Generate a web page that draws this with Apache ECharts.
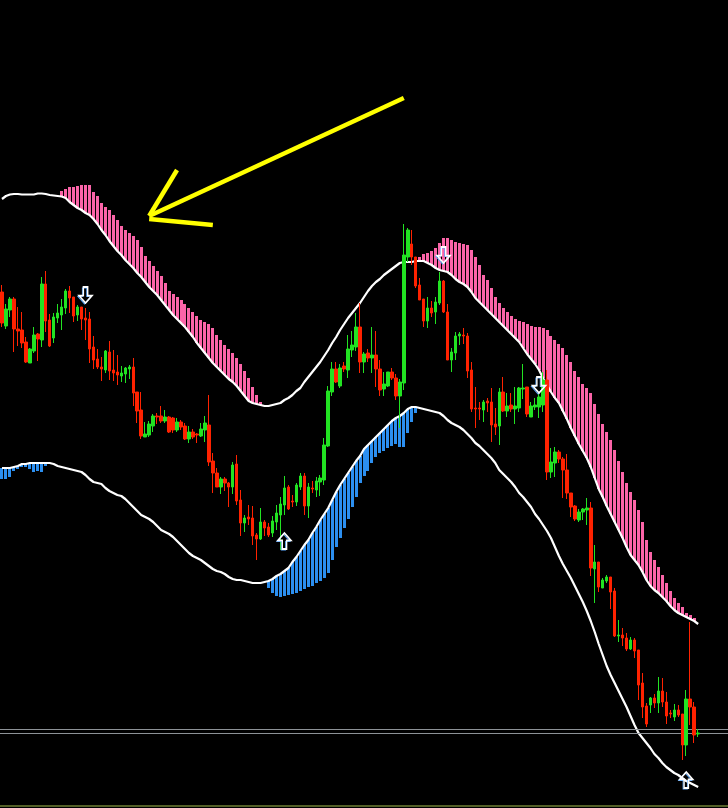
<!DOCTYPE html>
<html><head><meta charset="utf-8">
<script src="https://cdn.jsdelivr.net/npm/echarts@6/dist/echarts.min.js"></script>
<style>html,body{margin:0;padding:0;background:#000;}#c{width:728px;height:808px;}</style>
</head><body><div id="c"></div>
<script>
// price units (pips above chart floor); candles: [open, close, low, high]
const ohlc = [
[516,485,481,523],[482,499,479,504],[498,509,491,511],[509,479,456,511],[479,477,462,501],[478,465,460,496],[466,446,445,471],[445,459,445,460],[457,473,455,481],[474,469,447,475],
[468,524,461,531],[524,487,476,537],[488,462,461,494],[470,491,465,495],[490,495,485,504],[493,501,478,509],[500,517,494,519],[517,510,495,522],[511,492,486,511],[493,501,487,503],
[501,489,478,501],[490,488,468,500],[489,459,445,496],[461,448,439,472],[449,441,439,459],[441,439,427,451],[438,457,435,458],[456,437,428,467],[438,435,427,458],[436,433,423,453],
[432,435,426,442],[434,440,425,441],[439,441,429,443],[441,415,402,450],[416,397,385,416],[398,372,369,416],[371,374,371,386],[373,384,371,387],[382,392,376,394],[392,391,384,395],
[392,387,385,402],[387,391,385,398],[391,376,375,392],[390,378,375,391],[378,386,376,390],[386,381,378,388],[382,369,368,385],[369,376,365,382],[376,371,369,379],[374,373,365,375],
[372,379,371,385],[378,385,366,392],[383,346,342,413],[347,335,315,355],[335,321,321,340],[321,329,314,331],[329,325,317,331],[325,321,301,326],[321,343,314,346],[344,307,303,353],
[308,285,272,318],[285,290,276,293],[291,289,283,303],[290,272,263,302],[273,269,248,275],[269,286,268,300],[286,280,272,288],[281,273,271,285],[275,287,271,292],[286,295,278,303],
[293,304,258,311],[303,320,293,332],[321,299,298,323],[307,306,301,313],[306,323,302,325],[321,332,318,335],[332,302,293,335],[302,321,290,325],[320,319,315,327],[318,327,311,331],
[326,330,312,333],[328,363,323,370],[362,417,361,422],[416,439,412,446],[439,426,425,446],[422,440,420,444],[442,439,436,446],[438,459,430,473],[458,463,451,477],[461,481,457,495],
[481,446,435,505],[446,454,435,456],[455,450,446,459],[450,453,435,481],[453,439,421,477],[439,418,412,448],[419,424,412,436],[422,436,421,436],[436,430,428,440],[430,412,408,434],
[412,426,380,429],[425,553,418,584],[551,578,546,580],[564,551,543,578],[551,522,520,551],[523,508,508,530],[509,487,481,509],[487,500,480,511],[500,495,491,507],[496,506,484,511],
[505,527,503,536],[527,496,495,528],[496,448,448,504],[448,456,436,460],[455,472,448,476],[472,474,463,476],[473,472,464,480],[472,437,430,475],[438,399,396,446],[400,399,380,421],
[400,399,388,406],[398,406,386,408],[407,405,396,410],[406,383,366,420],[384,381,373,400],[382,416,363,420],[416,397,396,431],[397,402,391,415],[403,399,396,415],[399,402,384,421],
[400,420,396,421],[419,420,409,444],[421,394,391,421],[391,402,391,406],[401,403,398,410],[401,411,390,415],[403,428,396,436],[428,336,328,438],[336,346,330,360],[345,356,331,361],
[356,349,345,358],[349,338,310,351],[338,315,309,354],[315,301,291,315],[302,289,287,303],[288,296,286,299],[296,299,288,300],[298,300,283,310],[300,240,232,306],[239,246,205,263],
[246,221,216,246],[220,228,220,230],[227,231,225,233],[231,216,199,231],[217,172,171,220],[172,173,166,188],[173,170,162,180],[170,159,157,175],[159,168,158,171],[168,157,150,170],
[158,123,108,158],[125,101,90,135],[102,84,81,105],[103,110,95,111],[110,105,100,114],[105,117,95,131],[117,106,101,130],[106,92,84,116],[95,94,90,98],[91,98,87,104],
[98,93,91,103],[94,63,48,94],[63,109,52,118],[109,101,83,186],[101,73,65,106],[74,75,71,79]
];
const upperBand = [
609,612,613.5,614,614,613.5,613.5,613.5,613.5,614.5,
614.5,614,613,612.5,612,611.5,610,606,603,600,
598,595,593,589,584,578,573,567,562,557,
553,548,544,540,535,531,526,521,517,513,
508,503,498,493,489,485,481,476,471,465,
460,455,450,445,441,437,433,429,426,422,
417,412,407,405,404,403,402,402,403,404,
405,408,410,413,417,420,426,431,436,441,
446,452,458,465,471,478,484,490,495,500,
505,511,517,522,526,529,533,536,539,542,
545,546,546,546,547,547,547,545,543,540,
538,537,536,533,529,526,524,521,516,510,
506,502,498,494,490,486,482,478,474,470,
466,460,454,449,444,438,430,423,416,410,
405,397,389,380,372,364,357,350,341,330,
319,311,302,294,286,278,270,261,253,248,
243,236,228,222,218,215,211,207,202,198,
195,193,191,189,187,184];
const lowerBand = [
340,340,340,341,342,344,344,345,345,345,
345,345,345,344,342,341,340,339,338,337,
336,333,329,326,325,324,320,317,315,313,
312,309,305,301,297,293,291,289,286,282,
278,276,274,271,267,263,259,255,252,250,
248,245,242,239,237,236,234,231,229,228,
228,227,226,225,225,225,226,227,229,232,
234,237,240,246,251,257,263,268,275,281,
288,294,300,308,316,323,329,335,341,347,
352,359,363,367,371,375,379,383,387,390,
392,395,399,401,401,400,399,398,397,396,
395,392,388,385,383,381,378,374,370,365,
362,358,354,350,345,338,334,330,326,321,
315,311,306,301,294,289,283,277,270,261,
252,244,237,230,222,214,206,197,187,176,
164,153,142,133,125,117,109,101,92,83,
75,70,65,60,54,50,45,41,38,35,
33,30,27,25,23,21];
const pinkStartA = 15;
const pinkTopA = [617,619,621,621,622,623,623,623,616,612,605,601,598,593,588,582,578,575,572,568,561,552,547,542,537,532,525,517,514,511,508,504,500,496,492,488,486,484,480,473,468,463,459,455,450,444,437,430,421,413,406];
const pinkStartB = 105;
const pinkTopB = [551,554,555,557,560,565,570,570,568,566,565,564,563,558,551,543,533,528,520,511,505,500,496,492,489,487,486,484,482,481,481,480,478,472,468,464,460,453,446,437,431,424,420,415,404,394,384,376,368,358,347,336,325,316,308,298,286,268,256,248,241,233,225,217,210,205,201,195,193,190];
const blueStartA = 0;
const blueBottomA = [329,329,331,337,339,341,341,339,336,337,336,342];
const blueStartB = 67;
const blueBottomB = [220,215,212,211,212,213,214,215,217,219,221,222,225,227,230,235,248,261,270,280,289,301,311,325,332,337,345,351,355,357,360,362,364,361,361,375,386,395];
const sellArrows = [[21,513],[111,553],[135,423]];
const buyArrows = [[71,267],[172,28]];
const bidAskLines = [78.7, 74.7];
const floorLine = 2.7;
const yellowArrow = [[[101,710],[37,592]],[[37,592],[44,638]],[[37,589],[53,583]]];

const N = ohlc.length, PAD = 7;
const categories = Array.from({length: N + PAD}, (_, i) => String(i + 1));
function rangeData(start, ends, base) {
  return ends.map((t, k) => { const i = start + k; const b = base[i]; return [i, Math.min(t, b), Math.max(t, b)]; });
}
const pinkData = rangeData(pinkStartA, pinkTopA, upperBand).concat(rangeData(pinkStartB, pinkTopB, upperBand));
const blueData = rangeData(blueStartA, blueBottomA, lowerBand).concat(rangeData(blueStartB, blueBottomB, lowerBand));
function histSeries(name, data, color) {
  return { name, type: 'custom', data, encode: {x: 0, y: [1, 2]}, z: 1, silent: true,
    renderItem(params, api) {
      const x = api.value(0);
      const top = api.coord([x, api.value(2)]);
      const bot = api.coord([x, api.value(1)]);
      const w = api.size([1, 0])[0] * 0.75;
      return { type: 'rect', shape: { x: Math.round(top[0] - w / 2), y: Math.round(top[1]), width: w, height: Math.round(bot[1] - top[1]) }, style: { fill: color } };
    } };
}
const downPath = 'path://M4,0 L8,0 L8,8 L12,8 L6,15 L0,8 L4,8 Z';
const upPath = 'path://M4,15 L4,7 L0,7 L6,0 L12,7 L8,7 L8,15 Z';
function arrowSeries(data, path, color, off, z, bw) {
  return { type: 'scatter', data, symbol: path, symbolSize: [13, 16], symbolOffset: off, z, silent: true,
    itemStyle: { color: 'rgba(0,0,0,0)', borderColor: color, borderWidth: bw, opacity: 1 } };
}
const chart = echarts.init(document.getElementById('c'), null, {renderer: 'canvas'});
chart.setOption({
  animation: false,
  backgroundColor: '#000000',
  grid: { left: -1.5, top: 0, width: 4 * (N + PAD), height: 808 },
  xAxis: { type: 'category', data: categories, boundaryGap: true, show: false },
  yAxis: { type: 'value', min: 0, max: 808, show: false, splitLine: {show: false} },
  series: [
    histSeries('sell pressure', pinkData, '#fb64a8'),
    histSeries('buy pressure', blueData, '#2c8ff0'),
    { name: 'upper', type: 'line', data: upperBand, symbol: 'none', z: 3, silent: true,
      lineStyle: { color: '#ffffff', width: 2.2 },
      markLine: { silent: true, symbol: ['none', 'none'], label: {show: false},
        lineStyle: { color: '#8d9297', width: 1, type: 'solid' },
        data: [ {yAxis: bidAskLines[0]}, {yAxis: bidAskLines[1]}, {yAxis: floorLine, lineStyle: {color: '#718036', width: 1.5, type: 'solid'}} ] } },
    { name: 'lower', type: 'line', data: lowerBand, symbol: 'none', z: 3, silent: true,
      lineStyle: { color: '#ffffff', width: 2.2 } },
    { name: 'price', type: 'candlestick', data: ohlc, barWidth: 3, z: 5, silent: true,
      itemStyle: { color: '#22e322', color0: '#ff2200', borderColor: '#22e322', borderColor0: '#ff2200', borderWidth: 1 } },
    arrowSeries(sellArrows, downPath, '#5aa8ff', [-1, 1], 6, 1),
    arrowSeries(sellArrows, downPath, '#ffffff', [0, 0], 7, 1.6),
    arrowSeries(buyArrows, upPath, '#5aa8ff', [-1, 1], 6, 1),
    arrowSeries(buyArrows, upPath, '#ffffff', [0, 0], 7, 1.6)
  ]
});
const yellowPx = yellowArrow.map(seg => seg.map(p => chart.convertToPixel({gridIndex: 0}, p)));
chart.setOption({ graphic: yellowPx.map(pts => ({ type: 'polyline', shape: { points: pts }, z: 100,
  style: { stroke: '#ffff00', lineWidth: 4.5, fill: null } })) });
</script>
</body></html>
